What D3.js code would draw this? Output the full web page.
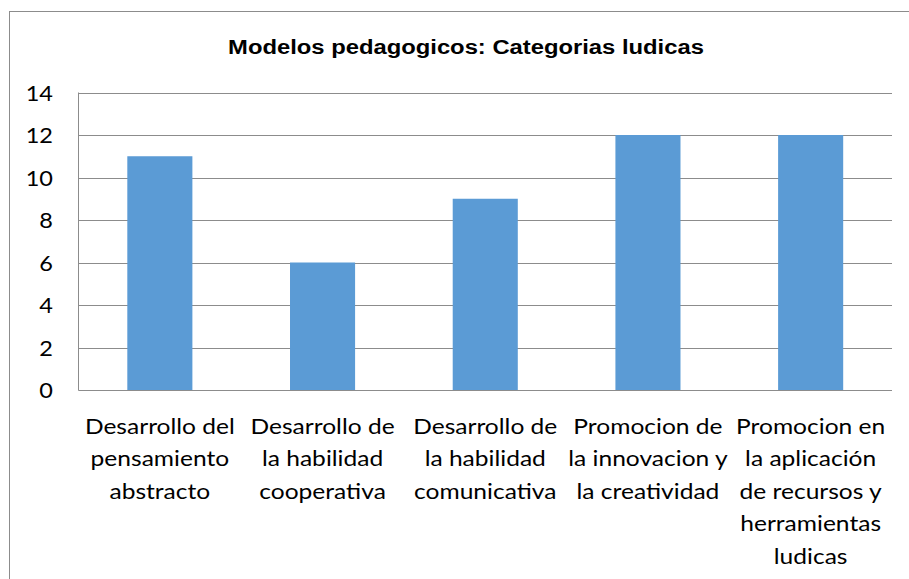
<!DOCTYPE html>
<html>
<head>
<meta charset="utf-8">
<script src="https://cdn.jsdelivr.net/npm/d3@7"></script>
<style>
  html, body { margin: 0; padding: 0; background: #fff; }
  svg { display: block; }
</style>
</head>
<body>
<svg id="chart" width="909" height="579"></svg>
<script>
const title = "Modelos pedagogicos: Categorias ludicas";
const categories = [
  ["Desarrollo del", "pensamiento", "abstracto"],
  ["Desarrollo de", "la habilidad", "cooperativa"],
  ["Desarrollo de", "la habilidad", "comunicativa"],
  ["Promocion de", "la innovacion y", "la creatividad"],
  ["Promocion en", "la aplicación", "de recursos y", "herramientas", "ludicas"]
];
const values = [11, 6, 9, 12, 12];
const yTicks = [0, 2, 4, 6, 8, 10, 12, 14];

const svg = d3.select("#chart");
const margin = { left: 78.5, right: 892, top: 92.5, bottom: 390 };
const stretch = 1.17;
const bodyFont = "Lato, 'Open Sans', sans-serif";

// outer chart border (extends beyond the frame on right/bottom)
svg.append("rect")
  .attr("x", 9.5).attr("y", 11.5)
  .attr("width", 1000).attr("height", 1000)
  .attr("fill", "none").attr("stroke", "#8c8c8c").attr("stroke-width", 1);

svg.append("g")
  .attr("transform", `translate(466,53.5) scale(1.19,1)`)
  .append("text")
  .attr("x", 0).attr("y", 0)
  .attr("text-anchor", "middle")
  .attr("font-family", "'Liberation Sans', Arial, sans-serif")
  .attr("font-weight", "bold")
  .attr("font-size", 20)
  .attr("fill", "#000")
  .text(title);

const x = d3.scaleBand()
  .domain(d3.range(categories.length))
  .range([margin.left, margin.right])
  .paddingInner(0.6)
  .paddingOuter(0.3);

const y = d3.scaleLinear().domain([0, 14]).range([margin.bottom, margin.top]);

// gridlines
svg.append("g")
  .selectAll("line")
  .data(yTicks)
  .join("line")
  .attr("x1", margin.left).attr("x2", margin.right)
  .attr("y1", d => Math.round(y(d)) + 0.5).attr("y2", d => Math.round(y(d)) + 0.5)
  .attr("stroke", "#8c8c8c").attr("stroke-width", 1);

// y axis line
svg.append("line")
  .attr("x1", margin.left).attr("x2", margin.left)
  .attr("y1", margin.top).attr("y2", margin.bottom + 0.5)
  .attr("stroke", "#8c8c8c").attr("stroke-width", 1);

// bars
svg.append("g")
  .selectAll("rect")
  .data(values)
  .join("rect")
  .attr("x", (d, i) => x(i))
  .attr("width", x.bandwidth())
  .attr("y", d => y(d))
  .attr("height", d => y(0) - y(d))
  .attr("fill", "#5b9bd5");

// y tick labels
const yAxis = d3.axisLeft(y).tickValues(yTicks).tickSize(0).tickPadding(0);
const ya = svg.append("g").attr("transform", `translate(53,0)`).call(yAxis);
ya.select(".domain").remove();
ya.selectAll("text")
  .attr("x", 0)
  .attr("font-family", bodyFont)
  .attr("font-size", 21)
  .attr("fill", "#000")
  .attr("dy", "0.36em")
  .attr("transform", "scale(1.12,1)");

// x labels
const xl = svg.append("g");
categories.forEach((lines, i) => {
  const g = xl.append("g")
    .attr("transform", `translate(${x(i) + x.bandwidth() / 2},0) scale(${stretch},1)`);
  const t = g.append("text")
    .attr("text-anchor", "middle")
    .attr("font-family", bodyFont)
    .attr("font-size", 21)
    .attr("fill", "#000");
  lines.forEach((ln, j) => {
    t.append("tspan")
      .attr("x", 0)
      .attr("y", 434 + j * 32.4)
      .text(ln);
  });
});
</script>
</body>
</html>
